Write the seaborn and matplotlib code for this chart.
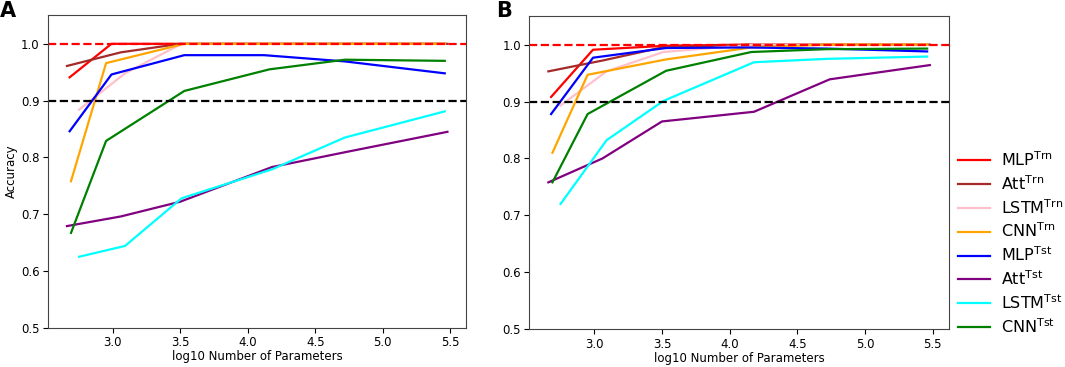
import matplotlib
matplotlib.use("Agg")
from matplotlib import pyplot as plt
import pandas as pd
import seaborn as sns

plt.rcParams['mathtext.default'] = 'regular'

# log10 number of parameters for each model family
mlp_x = [2.68, 2.99, 3.53, 4.12, 4.72, 5.46]
att_x = [2.66, 3.06, 3.50, 4.18, 4.74, 5.48]
lstm_x = [2.75, 3.09, 3.51, 4.18, 4.72, 5.46]
cnn_x = [2.69, 2.95, 3.53, 4.16, 4.72, 5.46]

# panel A accuracies
a_mlp_trn = [0.941, 1.0, 1.0, 1.0, 1.0, 1.0]
a_att_trn = [0.961, 0.985, 1.0, 1.0, 1.0, 1.0]
a_lstm_trn = [0.884, 0.948, 1.0, 1.0, 1.0, 1.0]
a_cnn_trn = [0.758, 0.966, 1.0, 1.0, 1.0, 1.0]
a_mlp_tst = [0.846, 0.946, 0.980, 0.980, 0.969, 0.948]
a_att_tst = [0.679, 0.696, 0.722, 0.783, 0.810, 0.845]
a_lstm_tst = [0.625, 0.644, 0.728, 0.779, 0.835, 0.881]
a_cnn_tst = [0.667, 0.829, 0.917, 0.955, 0.972, 0.970]

# panel B accuracies
b_mlp_trn = [0.908, 0.991, 0.998, 1.0, 1.0, 1.0]
b_att_trn = [0.953, 0.972, 0.995, 1.0, 1.0, 1.0]
b_lstm_trn = [0.893, 0.953, 0.987, 1.0, 1.0, 1.0]
b_cnn_trn = [0.810, 0.947, 0.974, 0.995, 1.0, 1.0]
b_mlp_tst = [0.878, 0.977, 0.994, 0.995, 0.993, 0.988]
b_att_tst = [0.758, 0.800, 0.865, 0.882, 0.939, 0.964]
b_lstm_tst = [0.720, 0.832, 0.901, 0.969, 0.975, 0.979]
b_cnn_tst = [0.758, 0.878, 0.954, 0.987, 0.992, 0.993]

names = ['MLP$^{Trn}$', 'Att$^{Trn}$', 'LSTM$^{Trn}$', 'CNN$^{Trn}$',
         'MLP$^{Tst}$', 'Att$^{Tst}$', 'LSTM$^{Tst}$', 'CNN$^{Tst}$']
colors = ['red', 'brown', 'pink', 'orange', 'blue', 'purple', 'cyan', 'green']
xs = [mlp_x, att_x, lstm_x, cnn_x, mlp_x, att_x, lstm_x, cnn_x]

panel_a = [a_mlp_trn, a_att_trn, a_lstm_trn, a_cnn_trn,
           a_mlp_tst, a_att_tst, a_lstm_tst, a_cnn_tst]
panel_b = [b_mlp_trn, b_att_trn, b_lstm_trn, b_cnn_trn,
           b_mlp_tst, b_att_tst, b_lstm_tst, b_cnn_tst]


def to_frame(series):
    rows = []
    for name, x, y in zip(names, xs, series):
        for xi, yi in zip(x, y):
            rows.append({'x': xi, 'acc': yi, 'model': name})
    return pd.DataFrame(rows)


fig = plt.figure(figsize=(10.65, 3.67), dpi=100)
ax1 = fig.add_axes([0.045, 0.107, 0.393, 0.851])
ax2 = fig.add_axes([0.497, 0.103, 0.394, 0.853])

palette = dict(zip(names, colors))
for ax, series in [(ax1, panel_a), (ax2, panel_b)]:
    sns.lineplot(data=to_frame(series), x='x', y='acc', hue='model',
                 hue_order=names, palette=palette, linewidth=1.6,
                 estimator=None, sort=True, ax=ax, legend=(ax is ax2))
    ax.axhline(1.0, color='red', linestyle='--', linewidth=1.6)
    ax.axhline(0.9, color='black', linestyle='--', linewidth=1.6)
    ax.set_ylim(0.5, 1.05)
    ax.set_yticks([0.5, 0.6, 0.7, 0.8, 0.9, 1.0])
    ax.set_xticks([3.0, 3.5, 4.0, 4.5, 5.0, 5.5])
    ax.set_xlabel('log10 Number of Parameters', fontsize=8.5, labelpad=1)
    ax.tick_params(labelsize=8.5, pad=2.5)
    for s in ax.spines.values():
        s.set_color('#444444')

ax1.set_ylabel('Accuracy', fontsize=8.5, labelpad=2)
ax2.set_ylabel('')

handles, labels = ax2.get_legend_handles_labels()
ax2.get_legend().remove()
fig.legend(handles, labels, loc='center left', bbox_to_anchor=(0.886, 0.338),
           frameon=False, fontsize=11.5, handlelength=2.0, handletextpad=0.7,
           labelspacing=0.32)

fig.text(0.0, 0.955, 'A', fontsize=15, fontweight='bold')
fig.text(0.466, 0.955, 'B', fontsize=15, fontweight='bold')

fig.savefig('out.png', dpi=100)
